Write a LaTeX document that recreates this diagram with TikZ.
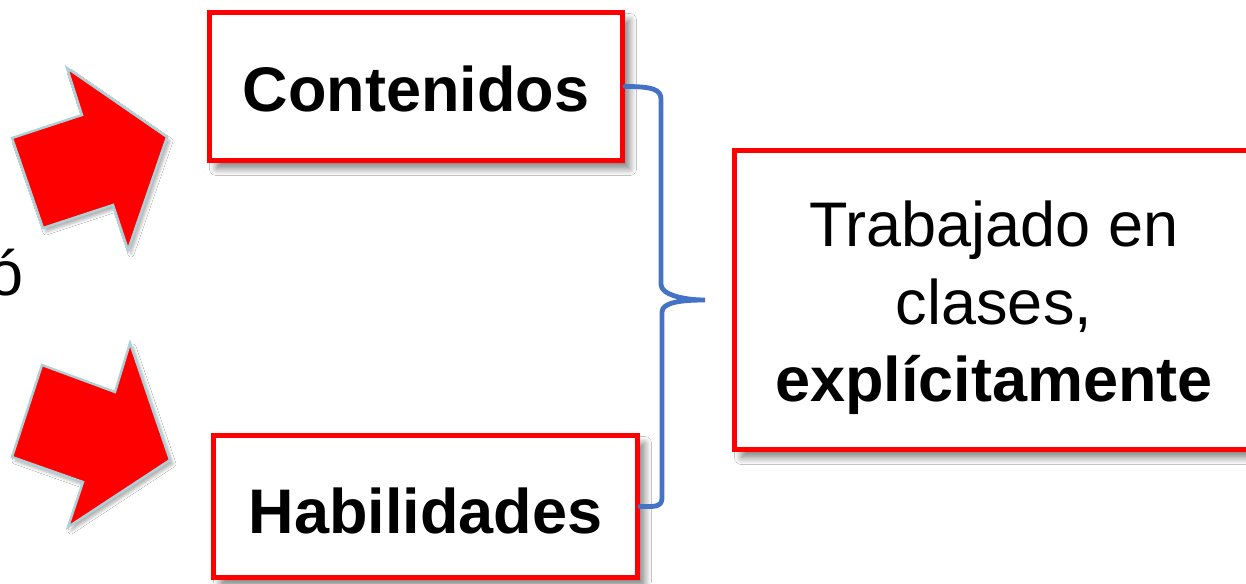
\documentclass[tikz,border=0pt]{standalone}
\usepackage{fontspec}
\setmainfont{Liberation Sans}
\usetikzlibrary{shadows,shadows.blur}
\definecolor{braceblue}{RGB}{68,114,196}
\definecolor{arrowedge}{RGB}{172,210,216}
\tikzset{
  bigfont/.style={font=\fontsize{31.5}{38.75}\selectfont},
  redbox/.style={draw=red, line width=2.5pt, fill=white, inner sep=0pt,
    bigfont, align=center,
    blur shadow={shadow xshift=3.5pt, shadow yshift=-4pt, shadow blur radius=3.5pt,
      shadow blur steps=8, shadow opacity=50}},
  bigarrow/.style={fill=red, draw=arrowedge, line width=1.2pt, line join=miter,
    blur shadow={shadow xshift=1.5pt, shadow yshift=-2pt, shadow blur radius=1.5pt,
      shadow blur steps=5, shadow opacity=30}},
  brace/.style={draw=braceblue, line width=2.4pt, line cap=round}
}
\begin{document}
\begin{tikzpicture}[x=0.5pt,y=-0.5pt]
        \clip (0,0) rectangle (1246,583);
        \fill[white] (0,0) rectangle (1246,583);
        %% Cut-off letter
        \node[bigfont, anchor=base east, inner sep=0pt]
            (o) at (24,295) {ó};
        %% Arrows
        \path[bigarrow] (12,138) -- (43,228) -- (113,205) -- (128,250)
            -- (167,137) -- (67,68) -- (82,115) -- cycle;
        \path[bigarrow] (42,365) -- (115,392) -- (130,343) -- (170,460)
            -- (68,527) -- (83,482) -- (12,457) -- cycle;
        %% Boxes
        \node[redbox, minimum width=206.5pt, minimum height=74pt,
            text height=25.5pt, text depth=0pt]
            (cont) at (416,86.5) {\textbf{Contenidos}};
        \node[redbox, minimum width=212pt, minimum height=71pt,
            text height=26.5pt, text depth=0pt]
            (hab) at (425.5,506.5) {\textbf{Habilidades}};
        \node[redbox, minimum width=259.5pt, minimum height=149.5pt]
            (tr) at (994,300) {};
        \node[bigfont, align=center, inner sep=0pt]
            (trtext) at ([yshift=-4pt]tr.center)
            {Trabajado en\\ clases,\\ \textbf{explícitamente}};
        %% Brace
        \coordinate (tip) at ([xshift=-13.5pt]tr.west);
        \draw[brace] (cont.east) .. controls +(28,0) and +(0,-10) .. ++(36,13)
            -- ++(0,185)
            .. controls +(0,10) and +(-22,0) .. (tip)
            .. controls +(-22,0) and +(0,-10) .. ++(-43,12)
            -- ++(0,186)
            .. controls +(0,10) and +(12,0) .. (hab.east);
    \end{tikzpicture}
\end{document}
